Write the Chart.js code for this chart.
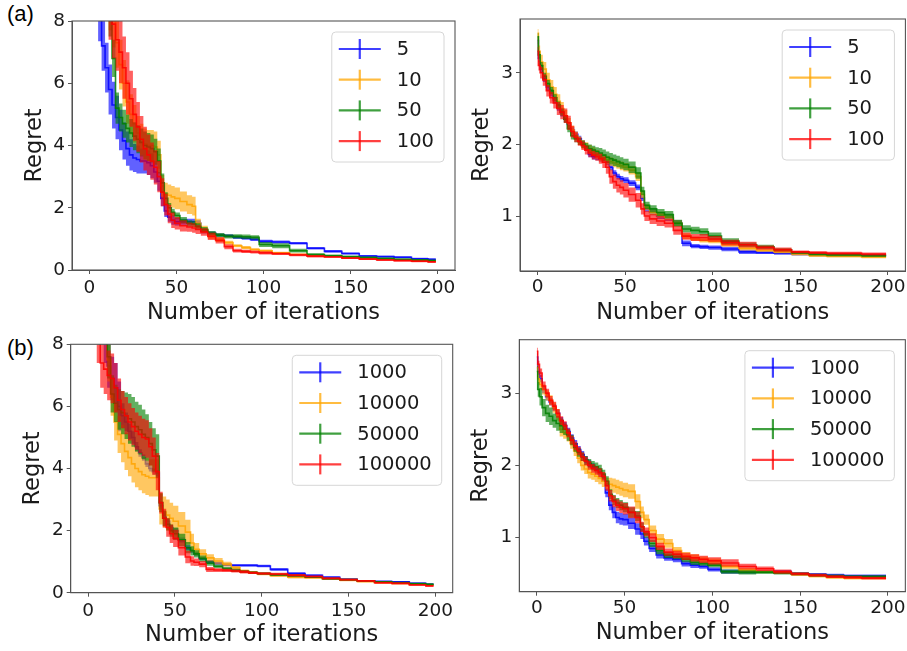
<!DOCTYPE html>
<html><head><meta charset="utf-8">
<script src="https://cdn.jsdelivr.net/npm/chart.js@4.4.1/dist/chart.umd.min.js"></script>
<style>
body{margin:0;background:#fff;width:907px;height:651px;overflow:hidden;position:relative;}
canvas{position:absolute;}
.plab{position:absolute;font:22px "Liberation Sans",sans-serif;line-height:22px;color:#000;}
</style>
</head><body>
<div class="plab" style="left:7px;top:3px">(a)</div>
<div class="plab" style="left:7px;top:337px">(b)</div>
<canvas id="cA" width="460" height="325" style="left:0;top:0"></canvas>
<canvas id="cB" width="447" height="325" style="left:460px;top:0"></canvas>
<canvas id="cC" width="460" height="326" style="left:0;top:325px"></canvas>
<canvas id="cD" width="447" height="326" style="left:460px;top:325px"></canvas>
<script>
// ---------- data ----------
const iterations = [0,1,2,4,6,8,10,12,14,16,18,20,22,24,26,28,30,32,34,36,38,40,42,44,46,48,50,54,58,60,62,66,70,75,80,85,90,95,100,110,120,130,140,150,160,170,180,190,199];
const xTickValues = [0,50,100,150,200];
const yTicksLeft = [0,2,4,6,8];
const yTicksRight = [1,2,3];
const labelsTop = ['5','10','50','100'];
const labelsBottom = ['1000','10000','50000','100000'];

// Panel (a) left
const aBlue = [14,13,12,9.6,8.2, 7.2,6.5,5.8,5.3,4.9,4.5,4.15,3.9, 3.7,3.6,3.55,3.5,3.5,3.45,3.35,3.15,2.85,2.3, 1.9,1.7,1.6,1.55,1.55,1.55,1.55,1.5,1.25,1.18, 1.12,1.1,1.05,1.02,0.98,0.92,0.9,0.86,0.7,0.6, 0.53,0.45,0.43,0.41,0.36,0.34];
const aBlueErr = [1.0,1.0,1.0,0.9,0.85, 0.8,0.8,0.8,0.75,0.7,0.65,0.6,0.55, 0.5,0.45,0.45,0.4,0.4,0.4,0.4,0.35,0.3,0.25, 0.2,0.15,0.15,0.12,0.1,0.1,0.1,0.1,0.08,0.06, 0.05,0.05,0.05,0.05,0.05,0.05,0.05,0.04,0.04,0.04, 0.03,0.03,0.03,0.03,0.03,0.03];
const aOrange = [16,15,14,12.5,11, 10,9.2,8.6,8.0,7.3,6.6,6.0,5.4, 5.0,4.7,4.4,4.2,4.05,4.0,4.0,3.95,3.7,2.7, 2.45,2.4,2.35,2.3,2.2,2.1,2.05,1.5,1.3,1.1, 0.98,0.88,0.78,0.72,0.66,0.62,0.55,0.5,0.46,0.44, 0.42,0.38,0.35,0.32,0.3,0.28];
const aOrangeErr = [1.2,1.2,1.2,1.1,1.05, 1.0,1.0,0.9,0.85,0.8,0.8,0.75,0.7, 0.65,0.6,0.55,0.5,0.5,0.5,0.5,0.5,0.45,0.35, 0.35,0.35,0.35,0.35,0.32,0.3,0.3,0.15,0.12,0.1, 0.08,0.06,0.05,0.05,0.04,0.04,0.04,0.03,0.03,0.03, 0.03,0.03,0.03,0.03,0.03,0.03];
const aGreen = [15,14,13,12,10.8, 9.8,9.0,8.2,6.8,5.2,4.9,4.7,4.55, 4.4,4.3,4.2,4.1,4.0,3.95,3.9,3.8,3.5,2.8, 2.3,2.0,1.85,1.75,1.6,1.5,1.48,1.4,1.3,1.18, 1.12,1.08,1.08,1.07,1.05,0.82,0.78,0.62,0.5,0.46, 0.43,0.4,0.37,0.34,0.32,0.3];
const aGreenErr = [1.0,1.0,1.0,0.9,0.85, 0.8,0.8,0.7,0.6,0.5,0.45,0.45,0.45, 0.45,0.45,0.45,0.45,0.45,0.45,0.45,0.42,0.4,0.3, 0.2,0.15,0.12,0.1,0.1,0.1,0.1,0.1,0.08,0.07, 0.07,0.07,0.07,0.07,0.07,0.08,0.08,0.06,0.04,0.04, 0.03,0.03,0.03,0.03,0.03,0.03];
const aRed = [16,15,14.5,13,11.5, 10.5,9.5,8.6,7.9,7.4,7.0,6.5,6.0, 5.5,5.0,4.6,4.2,3.9,3.7,3.5,3.3,3.0,2.5, 2.1,1.8,1.6,1.5,1.42,1.38,1.35,1.3,1.22,1.08, 0.95,0.75,0.62,0.6,0.58,0.55,0.52,0.48,0.44,0.42, 0.38,0.35,0.32,0.3,0.28,0.26];
const aRedErr = [1.3,1.3,1.3,1.3,1.25, 1.2,1.2,1.2,1.1,1.0,1.0,1.0,1.0, 0.9,0.85,0.8,0.75,0.7,0.65,0.6,0.55,0.5,0.45, 0.35,0.3,0.25,0.2,0.18,0.15,0.15,0.14,0.12,0.12, 0.1,0.08,0.06,0.05,0.05,0.05,0.04,0.04,0.04,0.03, 0.03,0.03,0.03,0.03,0.03,0.03];

// Panel (a) right
const bBlue = [3.45,3.2,3.05,2.92,2.8, 2.72,2.62,2.52,2.44,2.36,2.28,2.2,2.14, 2.08,2.02,1.95,1.86,1.83,1.82,1.8,1.78,1.75,1.68, 1.6,1.55,1.52,1.5,1.46,1.4,1.25,1.1,1.05,1.0, 0.97,0.9,0.62,0.58,0.57,0.56,0.54,0.5,0.49,0.48, 0.47,0.46,0.46,0.46,0.45,0.45];
const bBlueErr = [0.05,0.05,0.05,0.05,0.05, 0.05,0.05,0.05,0.05,0.05,0.04,0.04,0.04, 0.04,0.04,0.04,0.04,0.04,0.04,0.04,0.04,0.04,0.04, 0.04,0.04,0.04,0.04,0.04,0.04,0.04,0.04,0.04,0.04, 0.04,0.04,0.04,0.03,0.03,0.03,0.03,0.03,0.02,0.02, 0.02,0.02,0.02,0.02,0.02,0.02];
const bOrange = [3.55,3.3,3.15,3.05,2.9, 2.8,2.7,2.6,2.5,2.4,2.3,2.2,2.12, 2.05,2.0,1.97,1.93,1.9,1.86,1.82,1.8,1.78,1.76, 1.74,1.72,1.7,1.68,1.64,1.55,1.3,1.12,1.05,1.02, 0.98,0.9,0.72,0.68,0.66,0.65,0.6,0.55,0.52,0.5, 0.47,0.45,0.44,0.44,0.43,0.43];
const bOrangeErr = [0.06,0.08,0.1,0.1,0.1, 0.1,0.1,0.1,0.09,0.08,0.07,0.06,0.06, 0.06,0.06,0.06,0.06,0.06,0.06,0.06,0.06,0.06,0.06, 0.06,0.06,0.06,0.06,0.06,0.06,0.05,0.04,0.04,0.04, 0.04,0.04,0.04,0.03,0.03,0.03,0.03,0.03,0.02,0.02, 0.02,0.02,0.02,0.02,0.02,0.02];
const bGreen = [3.5,3.25,3.1,2.95,2.85, 2.75,2.65,2.55,2.45,2.35,2.22,2.12,2.08, 2.04,2.0,1.97,1.94,1.92,1.9,1.88,1.85,1.82,1.8, 1.78,1.76,1.74,1.72,1.68,1.6,1.35,1.15,1.1,1.05, 1.02,0.9,0.82,0.8,0.78,0.72,0.65,0.6,0.57,0.53, 0.49,0.47,0.46,0.46,0.45,0.45];
const bGreenErr = [0.05,0.05,0.05,0.05,0.05, 0.05,0.05,0.05,0.05,0.05,0.05,0.05,0.05, 0.05,0.05,0.05,0.06,0.06,0.06,0.07,0.08,0.08,0.08, 0.08,0.08,0.08,0.08,0.08,0.08,0.06,0.05,0.05,0.05, 0.05,0.05,0.05,0.05,0.05,0.05,0.04,0.03,0.03,0.02, 0.02,0.02,0.02,0.02,0.02,0.02];
const bRed = [3.3,3.1,3.0,2.9,2.75, 2.65,2.58,2.5,2.45,2.4,2.3,2.18,2.1, 2.04,1.98,1.92,1.88,1.85,1.83,1.8,1.75,1.68,1.55, 1.48,1.43,1.4,1.36,1.3,1.22,1.1,1.0,0.96,0.93, 0.9,0.8,0.72,0.7,0.7,0.68,0.63,0.6,0.56,0.53, 0.5,0.49,0.48,0.48,0.47,0.47];
const bRedErr = [0.06,0.07,0.08,0.08,0.08, 0.08,0.08,0.09,0.1,0.1,0.1,0.08,0.07, 0.06,0.06,0.06,0.06,0.06,0.06,0.07,0.08,0.09,0.1, 0.1,0.1,0.1,0.1,0.1,0.1,0.08,0.07,0.07,0.07, 0.06,0.06,0.05,0.05,0.05,0.04,0.04,0.04,0.03,0.03, 0.02,0.02,0.02,0.02,0.02,0.02];

// Panel (b) left
const cBlue = [14,13,12.5,11,10, 9,8.2,7.3,6.9,6.6,6.0,5.7,5.5, 5.2,5.0,4.7,4.5,4.35,4.15,4.0,3.9,3.85,2.8, 2.5,2.3,2.1,2.0,1.7,1.45,1.35,1.25,1.1,1.0, 0.95,0.9,0.88,0.88,0.88,0.86,0.75,0.62,0.56,0.5, 0.43,0.38,0.36,0.35,0.3,0.27];
const cBlueErr = [0.8,0.8,0.8,0.8,0.8, 0.8,0.8,0.7,0.7,0.8,0.8,0.4,0.3, 0.25,0.2,0.15,0.12,0.1,0.1,0.1,0.1,0.1,0.1, 0.1,0.08,0.08,0.08,0.08,0.08,0.06,0.06,0.05,0.05, 0.05,0.05,0.04,0.04,0.04,0.04,0.04,0.04,0.03,0.03, 0.03,0.03,0.03,0.03,0.03,0.03];
const cOrange = [15,14,13.5,12,11, 10,9,7.5,6.3,5.5,5.1,4.8,4.55, 4.35,4.15,4.0,3.9,3.8,3.75,3.7,3.7,3.7,2.7, 2.6,2.5,2.4,2.3,2.15,1.95,1.6,1.4,1.25,1.12, 1.02,0.92,0.8,0.7,0.65,0.6,0.55,0.5,0.48,0.45, 0.4,0.36,0.33,0.3,0.27,0.25];
const cOrangeErr = [0.8,0.8,0.8,0.8,0.8, 0.8,0.8,0.7,0.6,0.6,0.6,0.6,0.6, 0.6,0.6,0.6,0.6,0.6,0.6,0.6,0.6,0.6,0.5, 0.5,0.5,0.5,0.5,0.45,0.4,0.3,0.2,0.15,0.12, 0.1,0.08,0.06,0.05,0.05,0.04,0.04,0.04,0.03,0.03, 0.03,0.03,0.03,0.03,0.03,0.03];
const cGreen = [15,14,13.5,12,11, 10,9,7.6,6.4,6.1,5.9,5.8,5.7, 5.6,5.5,5.35,5.25,5.1,5.0,4.8,4.6,4.4,2.9, 2.4,2.2,2.0,1.9,1.7,1.45,1.35,1.25,1.1,0.95, 0.85,0.78,0.72,0.68,0.65,0.62,0.58,0.55,0.5,0.45, 0.42,0.38,0.35,0.32,0.29,0.27];
const cGreenErr = [0.8,0.8,0.8,0.8,0.8, 0.8,0.8,0.7,0.6,0.6,0.65,0.7,0.75, 0.8,0.8,0.8,0.8,0.8,0.75,0.7,0.7,0.7,0.3, 0.25,0.2,0.2,0.2,0.2,0.18,0.15,0.12,0.1,0.08, 0.06,0.05,0.05,0.04,0.04,0.04,0.04,0.04,0.03,0.03, 0.03,0.03,0.03,0.03,0.03,0.03];
const cRed = [13,12,11,9.5,8.3, 7.4,7.2,7.0,6.9,6.6,6.2,5.9,5.7, 5.5,5.35,5.2,5.1,5.0,4.95,4.7,4.4,3.9,2.9, 2.4,2.1,1.9,1.75,1.45,1.15,1.02,0.98,0.92,0.75, 0.73,0.72,0.7,0.67,0.64,0.62,0.6,0.56,0.52,0.46, 0.42,0.38,0.32,0.3,0.25,0.22];
const cRedErr = [1.0,1.0,1.0,1.0,0.9, 0.8,0.8,0.8,0.8,0.8,0.7,0.6,0.6, 0.6,0.6,0.6,0.6,0.6,0.6,0.6,0.6,0.6,0.35, 0.3,0.3,0.3,0.28,0.25,0.2,0.15,0.12,0.1,0.08, 0.06,0.05,0.05,0.05,0.04,0.04,0.04,0.04,0.03,0.03, 0.03,0.03,0.03,0.03,0.03,0.03];

// Panel (b) right
const dBlue = [3.5,3.3,3.2,3.05,2.95, 2.88,2.8,2.72,2.62,2.55,2.47,2.38,2.3, 2.22,2.15,2.08,2.02,1.98,1.94,1.88,1.82,1.62,1.45, 1.35,1.28,1.26,1.25,1.2,1.12,1.05,0.95,0.85,0.76, 0.72,0.7,0.64,0.62,0.6,0.56,0.53,0.53,0.53,0.53, 0.5,0.49,0.48,0.47,0.47,0.47];
const dBlueErr = [0.05,0.05,0.05,0.05,0.05, 0.05,0.05,0.05,0.05,0.05,0.05,0.05,0.05, 0.05,0.05,0.05,0.05,0.05,0.05,0.05,0.05,0.06,0.07, 0.08,0.08,0.08,0.08,0.08,0.08,0.07,0.06,0.05,0.05, 0.04,0.04,0.04,0.04,0.03,0.03,0.03,0.03,0.02,0.02, 0.02,0.02,0.02,0.02,0.02,0.02];
const dOrange = [3.35,3.2,3.12,3.05,2.97, 2.9,2.8,2.7,2.5,2.45,2.4,2.3,2.2, 2.1,2.0,1.95,1.9,1.88,1.85,1.82,1.78,1.75,1.74, 1.72,1.7,1.68,1.66,1.64,1.5,1.35,1.25,1.1,0.98, 0.92,0.82,0.75,0.72,0.7,0.67,0.6,0.55,0.53,0.52, 0.49,0.47,0.45,0.44,0.44,0.44];
const dOrangeErr = [0.06,0.06,0.07,0.07,0.07, 0.07,0.07,0.08,0.1,0.08,0.07,0.07,0.07, 0.07,0.07,0.07,0.08,0.08,0.08,0.08,0.08,0.08,0.09, 0.1,0.1,0.1,0.1,0.1,0.1,0.08,0.07,0.07,0.07, 0.06,0.05,0.05,0.05,0.04,0.04,0.03,0.03,0.02,0.02, 0.02,0.02,0.02,0.02,0.02,0.02];
const dGreen = [3.3,3.05,2.95,2.8,2.72, 2.68,2.62,2.58,2.55,2.5,2.42,2.35,2.25, 2.18,2.12,2.07,2.03,2.0,1.98,1.95,1.88,1.78,1.6, 1.52,1.48,1.45,1.42,1.35,1.3,1.15,1.05,0.92,0.82, 0.76,0.74,0.7,0.66,0.64,0.62,0.53,0.52,0.52,0.51, 0.5,0.48,0.47,0.46,0.46,0.46];
const dGreenErr = [0.08,0.1,0.12,0.12,0.12, 0.12,0.1,0.1,0.1,0.08,0.08,0.07,0.06, 0.06,0.06,0.06,0.06,0.06,0.06,0.06,0.06,0.07,0.07, 0.07,0.07,0.07,0.07,0.07,0.07,0.06,0.05,0.05,0.05, 0.04,0.04,0.04,0.04,0.03,0.03,0.03,0.03,0.02,0.02, 0.02,0.02,0.02,0.02,0.02,0.02];
const dRed = [3.58,3.4,3.28,3.1,3.0, 2.9,2.82,2.72,2.62,2.55,2.45,2.35,2.27, 2.2,2.12,2.06,2.0,1.96,1.93,1.9,1.85,1.72,1.58, 1.5,1.45,1.42,1.4,1.35,1.28,1.15,1.08,1.0,0.88, 0.8,0.77,0.74,0.72,0.7,0.68,0.65,0.6,0.57,0.53, 0.5,0.48,0.46,0.45,0.44,0.44];
const dRedErr = [0.05,0.05,0.06,0.06,0.06, 0.06,0.06,0.06,0.06,0.06,0.06,0.06,0.06, 0.06,0.06,0.06,0.06,0.06,0.06,0.06,0.06,0.07,0.08, 0.08,0.08,0.08,0.08,0.08,0.08,0.07,0.06,0.06,0.05, 0.05,0.05,0.05,0.05,0.05,0.05,0.05,0.04,0.03,0.03, 0.02,0.02,0.02,0.02,0.02,0.02];

// ---------- styling ----------
const colors = [[0,0,255],[255,165,0],[0,128,0],[255,0,0]];
const rgba = (c,a) => `rgba(${c[0]},${c[1]},${c[2]},${a})`;
const FONT = '"DejaVu Sans", sans-serif';
const AXIS = '#555';
const TEXT = '#1a1a1a';

const framePlugin = {
  id: 'frameLegend',
  afterDraw(chart, args, opts) {
    const {ctx, chartArea: a} = chart;
    ctx.save();
    ctx.strokeStyle = AXIS; ctx.lineWidth = 1.1;
    ctx.strokeRect(a.left, a.top, a.right - a.left, a.bottom - a.top);
    const items = opts.items || [];
    ctx.font = `${opts.size}px ${FONT}`;
    let maxW = 0;
    items.forEach(it => { maxW = Math.max(maxW, ctx.measureText(it.label).width); });
    const w = 65 + maxW + 10, h = 130;
    const x = a.right - 11 - w, y = a.top + 11;
    ctx.beginPath();
    const r = 4;
    ctx.moveTo(x + r, y); ctx.lineTo(x + w - r, y); ctx.arcTo(x + w, y, x + w, y + r, r);
    ctx.lineTo(x + w, y + h - r); ctx.arcTo(x + w, y + h, x + w - r, y + h, r);
    ctx.lineTo(x + r, y + h); ctx.arcTo(x, y + h, x, y + h - r, r);
    ctx.lineTo(x, y + r); ctx.arcTo(x, y, x + r, y, r); ctx.closePath();
    ctx.fillStyle = 'rgba(255,255,255,0.85)'; ctx.fill();
    ctx.strokeStyle = '#d6d6d6'; ctx.lineWidth = 1; ctx.stroke();
    items.forEach((it, i) => {
      const cy = y + 17 + i * 30.7;
      ctx.strokeStyle = rgba(it.color, 0.75); ctx.lineWidth = 2.2;
      ctx.beginPath(); ctx.moveTo(x + 7, cy); ctx.lineTo(x + 49, cy); ctx.stroke();
      ctx.beginPath(); ctx.moveTo(x + 28, cy - 10); ctx.lineTo(x + 28, cy + 10); ctx.stroke();
      ctx.fillStyle = TEXT; ctx.textBaseline = 'middle'; ctx.textAlign = 'left';
      ctx.fillText(it.label, x + 65, cy + 1);
    });
    ctx.restore();
  }
};

function makeChart(id, series, labels, yr, yTicks, g) {
  const datasets = [];
  series.forEach((s, i) => {
    const col = colors[i];
    const ord = (4 - i) * 2;
    datasets.push({
      label: labels[i] + ' upper',
      data: iterations.map((x, k) => ({x, y: s.mean[k] + s.err[k]})),
      borderColor: 'transparent', borderWidth: 0, pointRadius: 0, stepped: 'middle',
      backgroundColor: rgba(col, 0.62), fill: '+1', order: ord
    });
    datasets.push({
      label: labels[i] + ' lower',
      data: iterations.map((x, k) => ({x, y: s.mean[k] - s.err[k]})),
      borderColor: 'transparent', borderWidth: 0, pointRadius: 0, stepped: 'middle',
      fill: false, order: ord
    });
    datasets.push({
      label: labels[i],
      data: iterations.map((x, k) => ({x, y: s.mean[k]})),
      borderColor: rgba(col, 0.85), borderWidth: 1.6, pointRadius: 0, stepped: 'middle',
      fill: false, order: ord - 1
    });
  });
  return new Chart(document.getElementById(id), {
    type: 'line',
    data: {datasets},
    plugins: [framePlugin],
    options: {
      responsive: false, animation: false, devicePixelRatio: 1,
      layout: {padding: {top: g.padTop, right: g.padRight, left: 0, bottom: 0}},
      plugins: {
        legend: {display: false}, tooltip: {enabled: false},
        frameLegend: {items: labels.map((l, i) => ({label: l, color: colors[i]})), size: g.legSize}
      },
      scales: {
        x: {
          type: 'linear', min: -10, max: 210,
          afterBuildTicks: sc => { sc.ticks = xTickValues.map(v => ({value: v})); },
          afterFit: sc => { sc.height = g.xHeight; },
          grid: {drawOnChartArea: false, drawTicks: true, tickLength: 4, color: AXIS},
          border: {display: true, color: AXIS, width: 1},
          ticks: {font: {family: FONT, size: 18.5}, color: TEXT, padding: g.tickPadX, maxRotation: 0, autoSkip: false},
          title: {display: true, text: 'Number of iterations', color: TEXT,
                  font: {family: FONT, size: 22.5, lineHeight: 1}, padding: {top: 0, bottom: g.xTitlePad}}
        },
        y: {
          type: 'linear', min: yr[0], max: yr[1],
          afterBuildTicks: sc => { sc.ticks = yTicks.map(v => ({value: v})); },
          afterFit: sc => { sc.width = g.yWidth; },
          grid: {drawOnChartArea: false, drawTicks: true, tickLength: 4, color: AXIS},
          border: {display: true, color: AXIS, width: 1},
          ticks: {font: {family: FONT, size: 18.5}, color: TEXT, padding: 3},
          title: {display: true, text: 'Regret', color: TEXT,
                  font: {family: FONT, size: 22.5, lineHeight: 1}, padding: {top: g.yTitlePad, bottom: 0}}
        }
      }
    }
  });
}

makeChart('cA', [
  {mean: aBlue, err: aBlueErr}, {mean: aOrange, err: aOrangeErr},
  {mean: aGreen, err: aGreenErr}, {mean: aRed, err: aRedErr}
], labelsTop, [0, 8], yTicksLeft,
  {padTop: 21, padRight: 5, yWidth: 72, xHeight: 55, xTitlePad: 0.75, yTitlePad: 23.5, tickPadX: 2.9, legSize: 19.5});

makeChart('cB', [
  {mean: bBlue, err: bBlueErr}, {mean: bOrange, err: bOrangeErr},
  {mean: bGreen, err: bGreenErr}, {mean: bRed, err: bRedErr}
], labelsTop, [0.233, 3.75], yTicksRight,
  {padTop: 19, padRight: 1, yWidth: 60, xHeight: 54, xTitlePad: 0.75, yTitlePad: 11.4, tickPadX: 1.4, legSize: 19.5});

makeChart('cC', [
  {mean: cBlue, err: cBlueErr}, {mean: cOrange, err: cOrangeErr},
  {mean: cGreen, err: cGreenErr}, {mean: cRed, err: cRedErr}
], labelsBottom, [0, 8], yTicksLeft,
  {padTop: 19.3, padRight: 7.3, yWidth: 70.7, xHeight: 58.3, xTitlePad: 4.75, yTitlePad: 22, tickPadX: 2.9, legSize: 19.5});

makeChart('cD', [
  {mean: dBlue, err: dBlueErr}, {mean: dOrange, err: dOrangeErr},
  {mean: dGreen, err: dGreenErr}, {mean: dRed, err: dRedErr}
], labelsBottom, [0.252, 3.74], yTicksRight,
  {padTop: 14.7, padRight: 1, yWidth: 59.3, xHeight: 59.3, xTitlePad: 6.4, yTitlePad: 10.4, tickPadX: 1.5, legSize: 19.5});
</script>
</body></html>
